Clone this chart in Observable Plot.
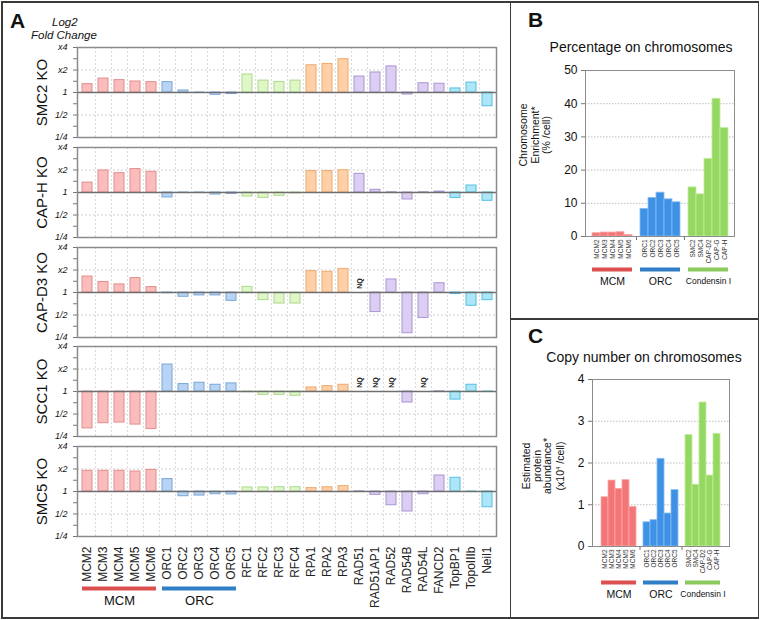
<!DOCTYPE html>
<html><head><meta charset="utf-8">
<script src="https://cdn.jsdelivr.net/npm/d3@7"></script>
<script src="https://cdn.jsdelivr.net/npm/@observablehq/plot@0.6"></script>
<style>
body{margin:0;background:#fff;font-family:"Liberation Sans",Arial,Helvetica,sans-serif;color:#111;}
#fig{position:relative;width:760px;height:620px;overflow:hidden;background:#fff;}
#fig svg{position:absolute;overflow:visible;}
.t{position:absolute;white-space:nowrap;}
.line{position:absolute;background:#3a3a3a;}
</style></head><body><div id="fig"></div>
<script>
// ---------- Panel A data (log2 fold change; null = NQ) ----------
const genes = ["MCM2","MCM3","MCM4","MCM5","MCM6","ORC1","ORC2","ORC3","ORC4","ORC5","RFC1","RFC2","RFC3","RFC4","RPA1","RPA2","RPA3","RAD51","RAD51AP1","RAD52","RAD54B","RAD54L","FANCD2","TopBP1","TopoIIIb","Neil1"];
const geneGroups = ["MCM","MCM","MCM","MCM","MCM","ORC","ORC","ORC","ORC","ORC","RFC","RFC","RFC","RFC","RPA","RPA","RPA","RAD","RAD","RAD","RAD","RAD","RAD","TOP","TOP","TOP"];
const koNames = ["SMC2 KO","CAP-H KO","CAP-D3 KO","SCC1 KO","SMC5 KO"];
const smc2KO  = [0.37,0.62,0.55,0.49,0.46, 0.46,0.09,-0.02,-0.10,-0.07, 0.80,0.53,0.47,0.53, 1.21,1.27,1.48, 0.71,0.89,1.16,-0.09,0.41,0.39, 0.18,0.44,-0.61];
const capHKO  = [0.44,0.98,0.86,1.04,0.92, -0.22,-0.02,-0.02,-0.09,-0.06, -0.18,-0.24,-0.15,-0.04, 0.95,0.95,0.99, 0.83,0.12,0.01,-0.31,0.01,0.04, -0.24,0.31,-0.37];
const capD3KO = [0.71,0.47,0.36,0.64,0.24, -0.03,-0.19,-0.13,-0.13,-0.37, 0.25,-0.34,-0.49,-0.49, 0.95,0.92,1.05, null,-0.87,0.58,-1.81,-1.13,0.41, -0.07,-0.59,-0.34];
const scc1KO  = [-1.64,-1.41,-1.38,-1.47,-1.67, 1.20,0.33,0.39,0.30,0.36, -0.03,-0.15,-0.15,-0.19, 0.18,0.24,0.30, null,null,null,-0.49,null,0.01, -0.36,0.30,-0.01];
const smc5KO  = [0.92,0.92,0.92,0.89,0.96, 0.55,-0.21,-0.18,-0.12,-0.13, 0.18,0.18,0.19,0.19, 0.15,0.19,0.24, 0.01,-0.15,-0.61,-0.89,-0.12,0.71, 0.61,-0.01,-0.70];
const rowsA = [smc2KO, capHKO, capD3KO, scc1KO, smc5KO];
const yTickVals = [2,1,0,-1,-2];
const yTickLabs = ["x4","x2","1","1/2","1/4"];
const yMinorVals = [1.5,0.5,-0.5,-1.5];
const groupSpansA = [{label:"MCM",first:"MCM2",last:"MCM6",mid:"MCM4",grp:"MCM"},{label:"ORC",first:"ORC1",last:"ORC5",mid:"ORC3",grp:"ORC"}];

// ---------- Panels B and C data ----------
const bcGenes = ["MCM2","MCM3","MCM4","MCM5","MCM6","ORC1","ORC2","ORC3","ORC4","ORC5","SMC2","SMC4","CAP-D2","CAP-G","CAP-H"];
const bcGroups = ["MCM","MCM","MCM","MCM","MCM","ORC","ORC","ORC","ORC","ORC","Cond","Cond","Cond","Cond","Cond"];
const pctOnChrom = [1.0,1.2,1.2,1.3,0.5, 8.3,11.6,13.2,11.2,10.3, 14.8,12.7,23.4,41.5,32.7];
const copyOnChrom = [1.18,1.58,1.38,1.59,0.95, 0.58,0.63,2.10,0.79,1.35, 2.67,1.48,3.45,1.70,2.70];
const bcSpacers = ["·1","·2"];
const groupSpansBC = [{label:"MCM",first:"MCM2",last:"MCM6",mid:"MCM4",grp:"MCM",fs:10.5},{label:"ORC",first:"ORC1",last:"ORC5",mid:"ORC3",grp:"ORC",fs:10.5},{label:"Condensin I",first:"SMC2",last:"CAP-H",mid:"CAP-D2",grp:"Cond",fs:8.5}];
const ticksB = [0,10,20,30,40,50];
const ticksC = [0,1,2,3,4];

// ---------- styles ----------
const fillA = {MCM:"#fbbcbc",ORC:"#b8d3f3",RFC:"#dff6c6",RPA:"#fdd0a8",RAD:"#dccef1",TOP:"#ade7f7"};
const strokeA = {MCM:"#e38d8d",ORC:"#7aa5d6",RFC:"#acd98b",RPA:"#efa96f",RAD:"#a994d2",TOP:"#50c0e3"};
const fillBC = {MCM:"#f37575",ORC:"#3f91e5",Cond:"#94d862"};
const strokeBC = {MCM:"#f9aaaa",ORC:"#86bcf0",Cond:"#c4ee9e"};
const groupBarColor = {MCM:"#dc4f4f",ORC:"#2f7ec6",Cond:"#8cc95c"};
const FONT = '"Liberation Sans",Arial,Helvetica,sans-serif';

const fig = document.getElementById("fig");
function place(node, left, top){ node.style.left = left+"px"; node.style.top = top+"px"; fig.appendChild(node); }
function txt(html, left, top, css){ const d=document.createElement("div"); d.className="t"; d.innerHTML=html; d.style.cssText += css||""; place(d,left,top); return d; }
function line(l,t,w,h){ const d=document.createElement("div"); d.className="line"; d.style.width=w+"px"; d.style.height=h+"px"; place(d,l,t); }

// ---------- Panel A rows ----------
const A_W = 510, A_ML = 77, A_MR = 14, A_PH = 90;
const stepA = (A_W - A_ML - A_MR) / genes.length;
const rowTops = [47,147,247,346,446];
rowsA.forEach((vals, i) => {
  const last = i === rowsA.length - 1;
  const data = genes.map((g,j)=>({gene:g, grp:geneGroups[j], v:vals[j]}));
  const bars = data.filter(d=>d.v!=null);
  const nq = data.filter(d=>d.v==null);
  const mt = 5, mb = last ? 80 : 5;
  const marks = [
    Plot.ruleY([-1,1], {stroke:"#cfcfcf", strokeDasharray:"2,2"}),
    Plot.ruleX(genes.slice(0,-1), {x:d=>d, dx:stepA/2, stroke:"#d8d8d8", strokeDasharray:"2,2"}),
    Plot.barY(bars, {x:"gene", y:"v", fill:d=>fillA[d.grp], stroke:d=>strokeA[d.grp], strokeWidth:1}),
    Plot.text(nq, {x:"gene", y:0, dy:-9, text:()=>"NQ", rotate:-90, fontSize:7, fontWeight:"bold", fill:"#222"}),
    Plot.ruleY([0], {stroke:"#6f6f6f", strokeWidth:1.5}),
    Plot.frame({stroke:"#8c8c8c", strokeWidth:1.5}),
    Plot.axisY(yTickVals.concat(yMinorVals), {label:null, tickSize:4, tickPadding:6, fontSize:9, fontStyle:"italic",
      tickFormat:d=>{const k=yTickVals.indexOf(d); return k>=0?yTickLabs[k]:"";}, stroke:"#777"}),
    Plot.text([koNames[i]], {frameAnchor:"left", dx:-35, rotate:-90, textAnchor:"middle", fontSize:15, fill:"#111"})
  ];
  if (last) {
    marks.push(
      Plot.axisX(genes, {label:null, tickSize:0, tickPadding:10, tickRotate:-90, fontSize:12, fill:"#222"}),
      Plot.ruleY(groupSpansA, {x1:"first", x2:"last", y:-2, dy:52, stroke:d=>groupBarColor[d.grp], strokeWidth:4}),
      Plot.text(groupSpansA, {x:"mid", y:-2, dy:64, text:"label", fontSize:13, fill:"#111"})
    );
  }
  const svg = Plot.plot({
    width:A_W, height:mt+A_PH+mb, marginTop:mt, marginBottom:mb, marginLeft:A_ML, marginRight:A_MR,
    style:{fontFamily:FONT, background:"transparent", overflow:"visible"},
    x:{type:"band", domain:genes, paddingInner:0.38, paddingOuter:0.19, axis:null},
    y:{domain:[-2,2], axis:null},
    color:{type:"identity"},
    marks
  });
  place(svg, 0, rowTops[i]-mt);
});
txt("A", 10, 9, "font-size:21px;font-weight:bold;");
txt("Log2", 52, 16, "font-size:11.5px;font-style:italic;");
txt("Fold Change", 31, 29, "font-size:11.5px;font-style:italic;");

// ---------- Panels B and C ----------
const bcDomain = [...bcGenes.slice(0,5), bcSpacers[0], ...bcGenes.slice(5,10), bcSpacers[1], ...bcGenes.slice(10)];
function bcPlot(values, ticks, opts){
  const data = bcGenes.map((g,j)=>({gene:g, grp:bcGroups[j], v:values[j]}));
  return Plot.plot({
    width:248, height:opts.mt+opts.ph+60, marginTop:opts.mt, marginBottom:60, marginLeft:opts.ml, marginRight:opts.mr,
    style:{fontFamily:FONT, background:"transparent", overflow:"visible"},
    x:{type:"band", domain:bcDomain, paddingInner:0, paddingOuter:0.2, axis:null},
    y:{domain:[ticks[0], ticks[ticks.length-1]], axis:null},
    color:{type:"identity"},
    marks:[
      Plot.ruleY(ticks.slice(1,-1), {stroke:"#bdbdbd", strokeDasharray:"1.5,1.5"}),
      Plot.barY(data, {x:"gene", y:"v", fill:d=>fillBC[d.grp], stroke:d=>strokeBC[d.grp], strokeWidth:0.8}),
      Plot.frame({stroke:"#8c8c8c", strokeWidth:1}),
      Plot.axisY(ticks, {label:null, tickSize:4, tickPadding:4, fontSize:12, stroke:"#777", fill:"#111"}),
      Plot.axisX(bcGenes, {label:null, tickSize:0, tickPadding:3, tickRotate:-90, fontSize:6.5, fill:"#333"}),
      Plot.axisX(bcSpacers, {label:null, tickSize:4, tickFormat:()=>"", stroke:"#777"}),
      Plot.ruleY(groupSpansBC, {x1:"first", x2:"last", y:ticks[0], dy:opts.gb, stroke:d=>groupBarColor[d.grp], strokeWidth:4}),
      Plot.text(groupSpansBC, {x:"mid", y:ticks[0], dy:opts.gb+12, text:"label", fontSize:d=>d.fs, fill:"#111"})
    ]
  });
}
const svgB = bcPlot(pctOnChrom, ticksB, {mt:10, ph:166, ml:75, mr:24, gb:33});
place(svgB, 510, 60);
const svgC = bcPlot(copyOnChrom, ticksC, {mt:10, ph:167, ml:82, mr:29, gb:36});
place(svgC, 510, 369);

txt("B", 528, 8, "font-size:21px;font-weight:bold;");
txt("Percentage on chromosomes", 530, 39, "width:222px;text-align:center;font-size:14px;");
txt("Chromosome<br>Enrichment*<br>(% /cell)", 535, 135, "font-size:10.5px;line-height:11.5px;text-align:center;transform:translate(-50%,-50%) rotate(-90deg);");
txt("C", 528, 324, "font-size:21px;font-weight:bold;");
txt("Copy number on chromosomes", 526, 349, "width:236px;text-align:center;font-size:14px;");
txt("Estimated<br>protein<br>abundance*<br>(x10<sup style='font-size:6px'>4</sup> /cell)", 543, 466, "font-size:10.5px;line-height:10.5px;text-align:center;transform:translate(-50%,-50%) rotate(-90deg);");

// ---------- borders ----------
line(1,1,758,1.5); line(1,617,758,1.5); line(1,1,1.5,617.5); line(757.5,1,1.5,617.5);
line(509.5,1,1.5,617.5); line(510,318,248,1.5);
</script></body></html>
